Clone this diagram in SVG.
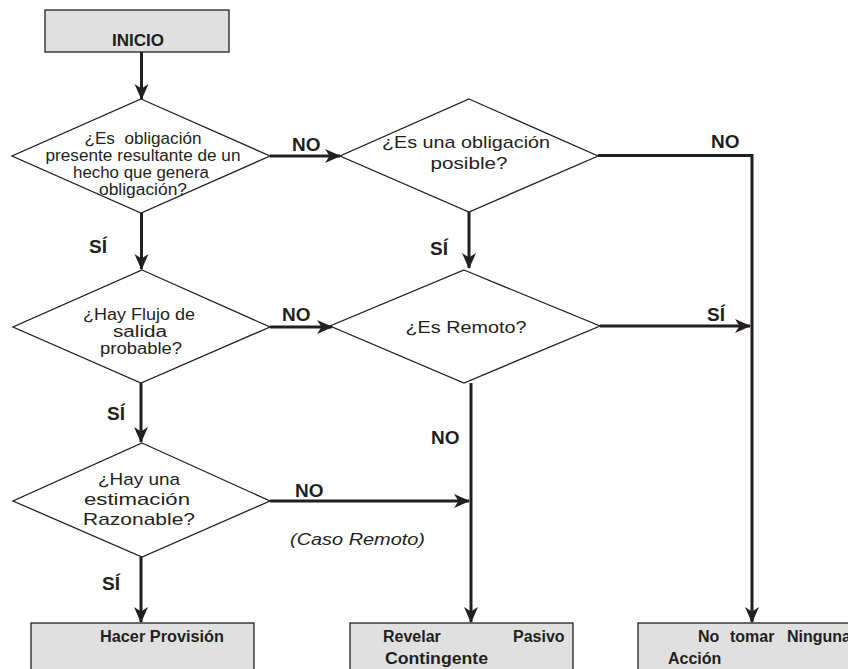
<svg xmlns="http://www.w3.org/2000/svg" width="848" height="669" viewBox="0 0 848 669">
  <style>
    .bg { fill: #ffffff; }
    .box { fill: #e0e0e0; stroke: #231f20; stroke-width: 1.3; }
    .dia { fill: #ffffff; stroke: #231f20; stroke-width: 1.3; }
    .q { font-family: "Liberation Sans", Arial, sans-serif; font-size: 17px; fill: #231f20; text-anchor: middle; }
    .q16 { font-size: 16px; }
    .lbl { font-family: "Liberation Sans", Arial, sans-serif; font-size: 19px; font-weight: bold; fill: #231f20; }
    .act { font-family: "Liberation Sans", Arial, sans-serif; font-size: 16px; font-weight: bold; fill: #231f20; }
    .note { font-family: "Liberation Sans", Arial, sans-serif; font-size: 17px; font-style: italic; fill: #231f20; }
    .wire { fill: none; stroke: #231f20; stroke-width: 3; }
  </style>
  <defs>
    <marker id="arrow" markerUnits="userSpaceOnUse" markerWidth="17" markerHeight="15" refX="15" refY="7" orient="auto">
      <path d="M0,0 L16,7 L0,14 L4.5,7 z" fill="#231f20"/>
    </marker>
  </defs>

  <rect class="bg" x="0" y="0" width="848" height="669"/>

  <!-- start -->
  <g id="inicio">
    <rect class="box" x="45" y="10" width="184" height="42"/>
    <text class="lbl" x="138" y="46" text-anchor="middle" style="font-size:17px">INICIO</text>
  </g>

  <!-- decisions -->
  <g id="obligacion-presente">
    <polygon class="dia" points="141,99 270,156 141,213 12,156"/>
    <text class="q q16" x="143" y="144" textLength="117" lengthAdjust="spacingAndGlyphs" xml:space="preserve">¿Es  obligación</text>
    <text class="q q16" x="143" y="161" textLength="195" lengthAdjust="spacingAndGlyphs">presente resultante de un</text>
    <text class="q q16" x="141" y="178" textLength="136" lengthAdjust="spacingAndGlyphs">hecho que genera</text>
    <text class="q q16" x="143" y="195" textLength="88" lengthAdjust="spacingAndGlyphs">obligación?</text>
  </g>

  <g id="obligacion-posible">
    <polygon class="dia" points="469,99 598,156 469,212 340,156"/>
    <text class="q" x="466" y="148" textLength="168" lengthAdjust="spacingAndGlyphs">¿Es una obligación</text>
    <text class="q" x="469" y="169" textLength="77" lengthAdjust="spacingAndGlyphs">posible?</text>
  </g>

  <g id="flujo-salida">
    <polygon class="dia" points="142,270 270,327 141,383 13,327"/>
    <text class="q q16" x="139" y="320" textLength="112" lengthAdjust="spacingAndGlyphs">¿Hay Flujo de</text>
    <text class="q q16" x="140" y="337" textLength="54" lengthAdjust="spacingAndGlyphs">salida</text>
    <text class="q q16" x="141" y="354" textLength="82" lengthAdjust="spacingAndGlyphs">probable?</text>
  </g>

  <g id="es-remoto">
    <polygon class="dia" points="464,270 600,326 464,383 330,326"/>
    <text class="q" x="466" y="333" textLength="121" lengthAdjust="spacingAndGlyphs">¿Es Remoto?</text>
  </g>

  <g id="estimacion">
    <polygon class="dia" points="142,443 270,501 142,557 13,501"/>
    <text class="q" x="139" y="485" textLength="82" lengthAdjust="spacingAndGlyphs">¿Hay una</text>
    <text class="q" x="137" y="505" textLength="106" lengthAdjust="spacingAndGlyphs">estimación</text>
    <text class="q" x="139" y="525" textLength="112" lengthAdjust="spacingAndGlyphs">Razonable?</text>
  </g>

  <!-- outcomes -->
  <g id="hacer-provision">
    <rect class="box" x="31" y="623" width="223" height="60"/>
    <text class="act" x="100" y="642" textLength="124" lengthAdjust="spacingAndGlyphs">Hacer Provisión</text>
  </g>

  <g id="revelar-pasivo">
    <rect class="box" x="350" y="623" width="223" height="60"/>
    <text class="act" y="642"><tspan x="383">Revelar</tspan><tspan x="513">Pasivo</tspan></text>
    <text class="act" x="385" y="664" textLength="103" lengthAdjust="spacingAndGlyphs">Contingente</text>
  </g>

  <g id="no-tomar-accion">
    <rect class="box" x="638" y="623" width="240" height="60"/>
    <text class="act" y="642"><tspan x="698">No</tspan><tspan x="730">tomar</tspan><tspan x="787">Ninguna</tspan></text>
    <text class="act" x="668" y="664">Acción</text>
  </g>

  <!-- connectors -->
  <g id="connectors">
    <line class="wire" x1="141.5" y1="52" x2="141.5" y2="99" marker-end="url(#arrow)"/>
    <line class="wire" x1="141.5" y1="213" x2="141.5" y2="269" marker-end="url(#arrow)"/>
    <line class="wire" x1="141" y1="383" x2="141" y2="442" marker-end="url(#arrow)"/>
    <line class="wire" x1="141" y1="557" x2="141" y2="622" marker-end="url(#arrow)"/>
    <line class="wire" x1="270" y1="156" x2="340" y2="156" marker-end="url(#arrow)"/>
    <polyline class="wire" points="598,155.5 752,155.5 752,622" marker-end="url(#arrow)"/>
    <line class="wire" x1="469" y1="212" x2="469" y2="268" marker-end="url(#arrow)"/>
    <line class="wire" x1="270" y1="327" x2="332" y2="327" marker-end="url(#arrow)"/>
    <line class="wire" x1="600" y1="326" x2="750" y2="326" marker-end="url(#arrow)"/>
    <line class="wire" x1="471" y1="383" x2="471" y2="622" marker-end="url(#arrow)"/>
    <line class="wire" x1="270" y1="501" x2="469" y2="501" marker-end="url(#arrow)"/>
  </g>

  <!-- branch labels -->
  <g id="labels">
    <text class="lbl" x="292" y="151">NO</text>
    <text class="lbl" x="711" y="148">NO</text>
    <text class="lbl" x="89" y="253">SÍ</text>
    <text class="lbl" x="430" y="255">SÍ</text>
    <text class="lbl" x="282" y="321">NO</text>
    <text class="lbl" x="707" y="321">SÍ</text>
    <text class="lbl" x="107" y="420">SÍ</text>
    <text class="lbl" x="431" y="444">NO</text>
    <text class="lbl" x="295" y="497">NO</text>
    <text class="lbl" x="102" y="590">SÍ</text>
    <text class="note" x="290" y="545" textLength="135" lengthAdjust="spacingAndGlyphs">(Caso Remoto)</text>
  </g>
</svg>
